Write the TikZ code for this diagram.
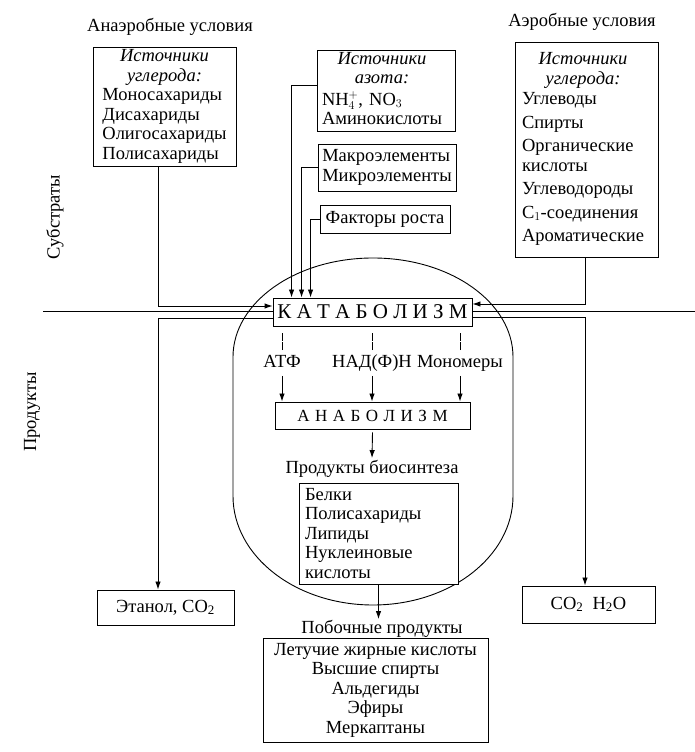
\documentclass[tikz,border=0pt]{standalone}
\usepackage{fontspec}
\setmainfont{Liberation Serif}
\usetikzlibrary{arrows.meta}
\newcommand{\srchead}[1]{\multicolumn{1}{@{}c@{}}{\itshape #1}}

\begin{document}
\begin{tikzpicture}[x=1pt,y=1pt,line width=0.9pt,
  font=\fontsize{18.5}{19.5}\selectfont,
  blk/.style={rectangle,draw,fill=white,inner sep=0pt},
  lbl/.style={inner sep=1pt,text height=13pt,text depth=4pt},
  brk/.style={dash pattern=on 8pt off 1.5pt},
  >={Latex[length=8pt,width=5.5pt]}]
\useasboundingbox (0,0) rectangle (695,752);

% cell
\draw (233,395) arc[start angle=180,end angle=0,x radius=140,y radius=99]
  -- (513,256) arc[start angle=0,end angle=-180,x radius=140,y radius=109] -- cycle;

% substrates / products border
\coordinate (divl) at (43,441);
\coordinate (divr) at (695,441);
\draw (divl) -- (divr);

\node (anaer) at (170,725) {Анаэробные условия};
\node (aer) at (582,730) {Аэробные условия};
\node[rotate=90] (subs) at (55,535) {Субстраты};
\node[rotate=90] (prod) at (32,340) {Продукты};

% sources
\node[blk,minimum width=143pt,minimum height=119pt] (csrcl) at (164.5,645.5) {\begin{tabular}{@{}l@{}}\srchead{Источники}\\ \srchead{углерода:}\\ Моносахариды\\ Дисахариды\\ Олигосахариды\\ Полисахариды\end{tabular}};
\node[blk,text width=129pt,inner xsep=7pt,minimum height=215pt,align=left] (csrcr) at (586.5,602.5) {\begin{tabular}{@{}l@{}}\srchead{Источники}\\ \srchead{углерода:}\\[1pt] Углеводы\\[4pt] Спирты\\[4pt] Органические\\ кислоты\\[4pt] Углеводороды\\[4pt] C$_1$-соединения\\[4pt] Ароматические\end{tabular}};
\node[blk,text width=128pt,inner xsep=5pt,minimum height=81pt,align=left] (nsrc) at (386,661.5) {\begin{tabular}{@{}l@{}}\srchead{Источники}\\ \srchead{азота:}\\[2pt] NH$_4^+$, NO$_3$\\ Аминокислоты\end{tabular}};
\node[blk,minimum width=138pt,minimum height=47pt] (elem) at (387,584.5) {\begin{tabular}{@{}l@{}}Макроэлементы\\ Микроэлементы\end{tabular}};
\node[blk,minimum width=130pt,minimum height=28pt] (grow) at (385,533) {Факторы роста};

% metabolism
\node[blk,minimum width=199pt,minimum height=28pt] (cat) at (372.5,440) {\fontsize{21}{23}\selectfont К А Т А Б О Л И З М};
\node[lbl] (atp) at (282,389) {АТФ};
\node[lbl] (nad) at (372,389) {НАД(Ф)Н};
\node[lbl] (mono) at (460,389) {Мономеры};
\node[blk,minimum width=195pt,minimum height=27pt] (ana) at (372.5,336.5) {\fontsize{17}{19}\selectfont\spaceskip=5.5pt А Н А Б О Л И З М};
\node[lbl] (biosyn) at (372,283) {Продукты биосинтеза};
\node[blk,text width=147pt,inner xsep=6pt,minimum height=101pt,align=left] (bio) at (378.5,218.5) {Белки\\ Полисахариды\\ Липиды\\ Нуклеиновые\\ кислоты};

% products
\node[lbl] (byprod) at (382,123) {Побочные продукты};
\node[blk,minimum width=225pt,minimum height=104pt,align=center] (side) at (375.5,62) {Летучие жирные кислоты\\ Высшие спирты\\ Альдегиды\\ Эфиры\\ Меркаптаны};
\node[blk,minimum width=137pt,minimum height=35pt] (eth) at (165.5,144.5) {Этанол, CO\textsubscript{2}};
\node[blk,minimum width=133pt,minimum height=37pt] (co2) at (588.5,147.5) {CO\textsubscript{2}\ \ H\textsubscript{2}O};

\draw[->] ([xshift=-6.5pt]csrcl.south) |- ([yshift=6pt]cat.west);
\draw[->] ([yshift=-6pt]cat.west) -| ([xshift=-7.5pt]eth.north);
\draw[->] ([xshift=-1.5pt]csrcr.south) |- ([yshift=8pt]cat.east);
\draw[->] ([yshift=-5pt]cat.east) -| ([xshift=-3.5pt]co2.north);
\draw[->] ([yshift=5pt]nsrc.west) -| ([xshift=19pt]cat.north west);
\draw[->] (elem.west) -| ([xshift=29pt]cat.north west);
\draw[->] (grow.west) -| ([xshift=38pt]cat.north west);

\foreach \n in {atp,nad,mono} {
  \draw[brk] ([yshift=3pt]\n.north) -- ++(0,19);
  \draw[->] ([yshift=-3pt]\n.south) -- (\n.south |- ana.north);
}
\draw[->] ([yshift=-3pt]ana.south) -- ([yshift=1pt]biosyn.north);
\draw[->] (bio.south) -- (bio.south |- byprod.north);
\end{tikzpicture}
\end{document}
